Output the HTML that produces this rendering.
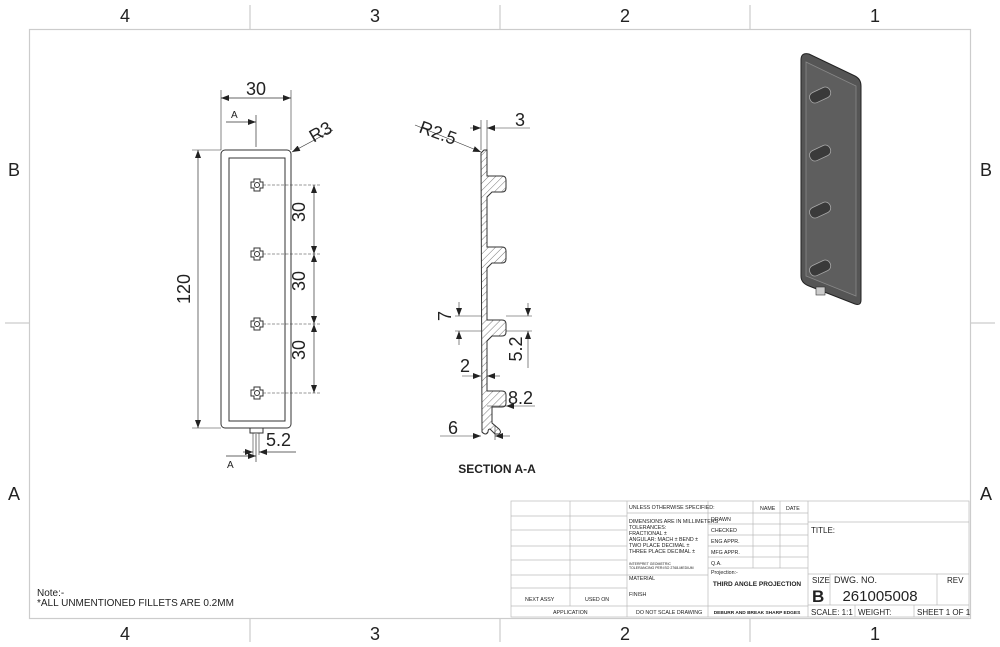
<!DOCTYPE html>
<html><head><style>body{margin:0;background:#fff}svg{display:block}text{font-family:"Liberation Sans",sans-serif;fill:#222}</style></head>
<body>
<svg width="1000" height="647" viewBox="0 0 1000 647" xmlns="http://www.w3.org/2000/svg">
<defs>
<pattern id="h" width="5" height="5" patternUnits="userSpaceOnUse" patternTransform="rotate(45)"><line x1="0" y1="0" x2="0" y2="5" stroke="#555" stroke-width="0.8"/></pattern>
<marker id="a" markerWidth="8" markerHeight="6" refX="8" refY="3" orient="auto-start-reverse" markerUnits="userSpaceOnUse"><path d="M0,0 L8,3 L0,6z" fill="#222"/></marker>
</defs>
<g stroke="#ccc" stroke-width="1.2" fill="none">
<rect x="29.5" y="29.5" width="941" height="589"/>
<line x1="250" y1="5" x2="250" y2="29"/><line x1="500" y1="5" x2="500" y2="29"/><line x1="750" y1="5" x2="750" y2="29"/>
<line x1="250" y1="619" x2="250" y2="642"/><line x1="500" y1="619" x2="500" y2="642"/><line x1="750" y1="619" x2="750" y2="642"/>
<line x1="5" y1="323" x2="29" y2="323"/><line x1="971" y1="323" x2="995" y2="323"/>
</g>
<g font-size="18" text-anchor="middle">
<text x="125" y="22">4</text><text x="375" y="22">3</text><text x="625" y="22">2</text><text x="875" y="22">1</text>
<text x="125" y="640">4</text><text x="375" y="640">3</text><text x="625" y="640">2</text><text x="875" y="640">1</text>
<text x="14" y="176">B</text><text x="986" y="176">B</text><text x="14" y="500">A</text><text x="986" y="500">A</text>
</g>
<g stroke="#333" stroke-width="1" fill="none">
<rect x="221" y="150" width="70" height="278" rx="4"/>
<rect x="229" y="158" width="56" height="263"/>
<rect x="250" y="428" width="13" height="5"/>
<line x1="221" y1="150" x2="221" y2="90" stroke-width="0.6"/><line x1="291" y1="150" x2="291" y2="90" stroke-width="0.6"/>
<line x1="221" y1="98" x2="291" y2="98" stroke-width="0.7" marker-start="url(#a)" marker-end="url(#a)"/>
<line x1="221" y1="150" x2="192" y2="150" stroke-width="0.6"/><line x1="221" y1="428" x2="192" y2="428" stroke-width="0.6"/>
<line x1="198" y1="150" x2="198" y2="428" stroke-width="0.7" marker-start="url(#a)" marker-end="url(#a)"/>
<line x1="333" y1="130" x2="292" y2="152" stroke-width="0.7" marker-end="url(#a)"/>
<line x1="226" y1="122" x2="256" y2="122" stroke-width="0.8" marker-end="url(#a)"/><line x1="256" y1="115" x2="256" y2="147" stroke-width="0.7"/>
<line x1="226" y1="456" x2="256" y2="456" stroke-width="0.8" marker-end="url(#a)"/><line x1="256" y1="434" x2="256" y2="462" stroke-width="0.7"/>
<line x1="253" y1="433" x2="253" y2="455" stroke-width="0.6"/><line x1="259" y1="433" x2="259" y2="455" stroke-width="0.6"/>
<line x1="243" y1="452" x2="253" y2="452" stroke-width="0.7" marker-end="url(#a)"/><line x1="296" y1="452" x2="259" y2="452" stroke-width="0.7" marker-end="url(#a)"/>
<g stroke-width="0.5" stroke-dasharray="3,1.5">
<line x1="263" y1="185" x2="320" y2="185"/><line x1="263" y1="254" x2="320" y2="254"/><line x1="263" y1="324" x2="320" y2="324"/><line x1="263" y1="393" x2="320" y2="393"/>
</g>
<line x1="314" y1="185" x2="314" y2="254" stroke-width="0.7" marker-start="url(#a)" marker-end="url(#a)"/>
<line x1="314" y1="254" x2="314" y2="324" stroke-width="0.7" marker-start="url(#a)" marker-end="url(#a)"/>
<line x1="314" y1="324" x2="314" y2="393" stroke-width="0.7" marker-start="url(#a)" marker-end="url(#a)"/>
<g id="hole"><path d="M254,180 h6 v3 h3 v6 h-3 v3 h-6 v-3 h-3 v-6 h3z" transform="translate(0,-1)"/><circle cx="257" cy="185" r="2.5"/></g>
<use href="#hole" y="69"/><use href="#hole" y="139"/><use href="#hole" y="208"/>
</g>
<g font-size="18">
<text x="256" y="95" text-anchor="middle">30</text>
<text x="308" y="138" transform="rotate(-30 320 130)">R3</text>
<text x="190" y="289" text-anchor="middle" transform="rotate(-90 190 289)">120</text>
<text x="313" y="220" text-anchor="middle" transform="rotate(-90 305 220)">30</text>
<text x="313" y="289" text-anchor="middle" transform="rotate(-90 305 289)">30</text>
<text x="313" y="358" text-anchor="middle" transform="rotate(-90 305 358)">30</text>
<text x="266" y="446">5.2</text>
</g>
<text x="231" y="118" font-size="10">A</text><text x="227" y="468" font-size="10">A</text>
<g stroke="#333" stroke-width="1">
<path d="M481,153 l3,-3 h3 v26 h15 q4,0 4,4 v8 q0,4 -4,4 h-10 l-5,5 v50 h15 q4,0 4,4 v8 q0,4 -4,4 h-10 l-5,5 v52 h15 q4,0 4,4 v8 q0,4 -4,4 h-10 l-5,5 v50 h15 q4,0 4,4 v8 q0,4 -4,4 h-10 v16 l7,6 q3,3 0,5 h-4 l-5,-5 q-2,0 -2,3 q-2,4 -6,0z" fill="url(#h)"/>
</g>
<g stroke="#333" stroke-width="0.6" fill="none">
<line x1="481" y1="150" x2="481" y2="120"/><line x1="487" y1="150" x2="487" y2="120"/>
<line x1="470" y1="128" x2="481" y2="128" marker-end="url(#a)"/><line x1="530" y1="128" x2="487" y2="128" marker-end="url(#a)"/>
<line x1="415" y1="125" x2="481" y2="152" marker-end="url(#a)"/>
<line x1="455" y1="316" x2="481" y2="316"/><line x1="455" y1="331" x2="481" y2="331"/>
<line x1="459" y1="302" x2="459" y2="316" marker-end="url(#a)"/><line x1="459" y1="345" x2="459" y2="331" marker-end="url(#a)"/>
<line x1="506" y1="316" x2="532" y2="316"/><line x1="506" y1="331" x2="532" y2="331"/>
<line x1="528" y1="303" x2="528" y2="316" marker-end="url(#a)"/><line x1="528" y1="368" x2="528" y2="331" marker-end="url(#a)"/>
<line x1="462" y1="376" x2="481" y2="376" marker-end="url(#a)"/><line x1="500" y1="376" x2="487" y2="376" marker-end="url(#a)"/>
<line x1="487" y1="406" x2="506" y2="406"/><line x1="535" y1="406" x2="506" y2="406" marker-end="url(#a)"/>
<line x1="440" y1="436" x2="481" y2="436" marker-end="url(#a)"/><line x1="510" y1="436" x2="495" y2="436" marker-end="url(#a)"/>
<line x1="495" y1="425" x2="495" y2="440"/>
</g>
<g font-size="18">
<text x="418" y="132" transform="rotate(20 418 132)">R2.5</text>
<text x="515" y="126">3</text>
<text x="458" y="323" text-anchor="middle" transform="rotate(-90 451 323)">7</text>
<text x="528" y="355" text-anchor="middle" transform="rotate(-90 522 355)">5.2</text>
<text x="460" y="372">2</text>
<text x="508" y="404">8.2</text>
<text x="448" y="434">6</text>
</g>
<text x="497" y="473" font-size="12" font-weight="bold" text-anchor="middle">SECTION A-A</text>
<g>
<path d="M801,60 q0,-8 8,-6 l46,22 q6,3 6,10 v214 q0,6 -6,4 l-46,-18 q-8,-3 -8,-10z" fill="#555" stroke="#222"/>
<path d="M806,62 l50,24 v210 l-50,-20z" fill="#5e5e5e" stroke="#888" stroke-width="0.8"/>
<rect x="816" y="287" width="9" height="8" fill="#ccc" stroke="#333" stroke-width="0.6"/>
<g fill="#3a3a3a" stroke="#aaa" stroke-width="0.8">
<rect x="809" y="90" width="22" height="11" rx="5" transform="rotate(-25 819 95)"/>
<rect x="809" y="148" width="22" height="11" rx="5" transform="rotate(-25 819 153)"/>
<rect x="809" y="205" width="22" height="11" rx="5" transform="rotate(-25 819 210)"/>
<rect x="809" y="263" width="22" height="11" rx="5" transform="rotate(-25 819 268)"/>
</g>
</g>
<text x="37" y="596" font-size="10">Note:-</text>
<text x="37" y="606" font-size="10">*ALL UNMENTIONED FILLETS ARE 0.2MM</text>
<g stroke="#bbb" stroke-width="0.7" fill="none">
<rect x="511" y="501" width="458" height="116"/>
<line x1="570" y1="501" x2="570" y2="606"/><line x1="627" y1="501" x2="627" y2="617"/><line x1="708" y1="501" x2="708" y2="617"/>
<line x1="753" y1="501" x2="753" y2="568"/><line x1="780" y1="501" x2="780" y2="568"/><line x1="808" y1="501" x2="808" y2="617"/>
<line x1="511" y1="516" x2="627" y2="516"/><line x1="511" y1="530" x2="627" y2="530"/><line x1="511" y1="546" x2="627" y2="546"/><line x1="511" y1="560" x2="627" y2="560"/><line x1="511" y1="575" x2="708" y2="575"/><line x1="511" y1="588" x2="627" y2="588"/><line x1="511" y1="606" x2="808" y2="606"/>
<line x1="627" y1="513" x2="708" y2="513"/>
<line x1="708" y1="513" x2="808" y2="513"/><line x1="708" y1="524" x2="808" y2="524"/><line x1="708" y1="535" x2="808" y2="535"/><line x1="708" y1="546" x2="808" y2="546"/><line x1="708" y1="557" x2="808" y2="557"/><line x1="708" y1="568" x2="808" y2="568"/>
<line x1="808" y1="522" x2="969" y2="522"/><line x1="808" y1="574" x2="969" y2="574"/><line x1="808" y1="605" x2="969" y2="605"/>
<line x1="830" y1="574" x2="830" y2="605"/><line x1="937" y1="574" x2="937" y2="605"/>
<line x1="855" y1="605" x2="855" y2="617"/><line x1="914" y1="605" x2="914" y2="617"/>
</g>
<g font-size="5.3" fill="#333">
<text x="629" y="509">UNLESS OTHERWISE SPECIFIED:</text>
<text x="629" y="523">DIMENSIONS ARE IN MILLIMETERS</text><text x="629" y="529">TOLERANCES:</text><text x="629" y="535">FRACTIONAL ±</text><text x="629" y="541">ANGULAR: MACH ±    BEND ±</text><text x="629" y="547">TWO PLACE DECIMAL    ±</text><text x="629" y="553">THREE PLACE DECIMAL  ±</text>
<text x="629" y="565" font-size="3.5">INTERPRET GEOMETRIC</text><text x="629" y="569" font-size="3.5">TOLERANCING PER:ISO 2768-MEDIUM</text>
<text x="629" y="580">MATERIAL</text><text x="629" y="596">FINISH</text>
<text x="525" y="601">NEXT ASSY</text><text x="585" y="601">USED ON</text>
<text x="553" y="614">APPLICATION</text><text x="636" y="614">DO NOT SCALE DRAWING</text>
<text x="760" y="510">NAME</text><text x="786" y="510">DATE</text>
<text x="711" y="521">DRAWN</text><text x="711" y="532">CHECKED</text><text x="711" y="543">ENG APPR.</text><text x="711" y="554">MFG APPR.</text><text x="711" y="565">Q.A.</text>
<text x="711" y="574">Projection:-</text>
</g>
<text x="757" y="586" font-size="6.5" font-weight="bold" text-anchor="middle">THIRD ANGLE PROJECTION</text>
<text x="757" y="614" font-size="4.8" font-weight="bold" text-anchor="middle">DEBURR AND BREAK SHARP EDGES</text>
<text x="811" y="533" font-size="8">TITLE:</text>
<text x="812" y="583" font-size="8">SIZE</text><text x="834" y="583" font-size="9">DWG.  NO.</text><text x="947" y="583" font-size="8">REV</text>
<text x="812" y="602" font-size="17" font-weight="bold">B</text>
<text x="880" y="601" font-size="15" text-anchor="middle">261005008</text>
<text x="811" y="615" font-size="8">SCALE: 1:1</text><text x="858" y="615" font-size="8">WEIGHT:</text><text x="917" y="615" font-size="8">SHEET 1 OF 1</text>
</svg>
</body></html>
